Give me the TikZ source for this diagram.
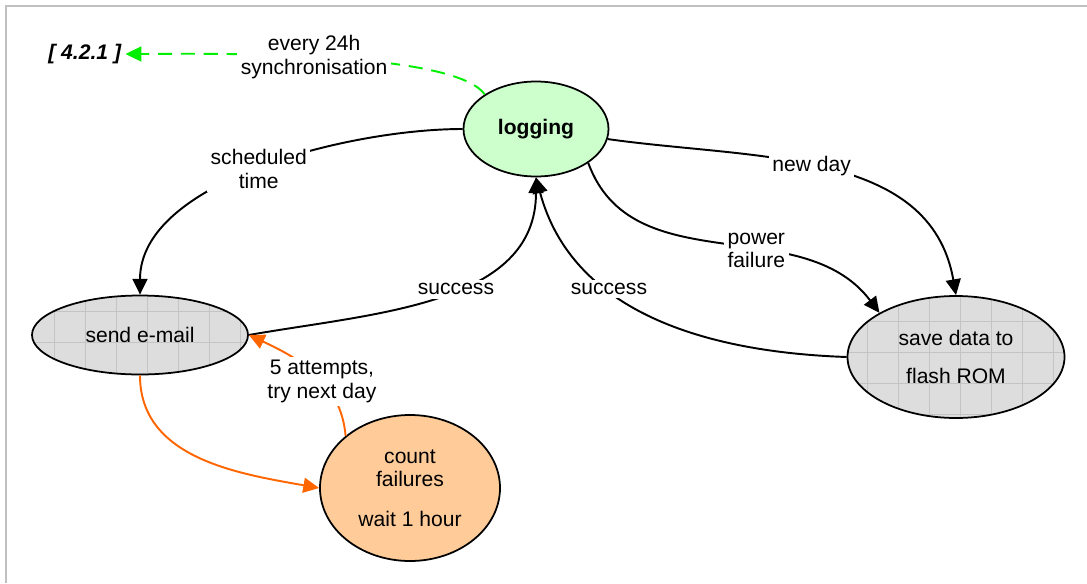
\documentclass[tikz,border=0pt]{standalone}
\usepackage{fontspec}
\setmainfont{Liberation Sans}
\usetikzlibrary{positioning,shapes.geometric,arrows.meta}
\definecolor{loggreen}{HTML}{CCFFCC}
\definecolor{cellgray}{HTML}{DDDDDD}
\definecolor{gridgray}{HTML}{C4C4C4}
\definecolor{waitorange}{HTML}{FFCC99}
\definecolor{retry}{HTML}{FF6600}
\definecolor{syncgreen}{HTML}{00EE00}
\definecolor{framegray}{HTML}{C0C0C0}

\begin{document}
\begin{tikzpicture}[on grid, font=\fontsize{12}{13.5}\selectfont,
	>={Triangle[length=9pt,width=8.5pt]},
	stage/.style={ellipse, draw, line width=1pt, inner sep=0pt, align=center},
	gridded/.style={fill=cellgray, path picture={\draw[gridgray, line width=0.5pt, shift={(path picture bounding box.center)}] (-3.41,-1.86) grid[step=0.62cm] (3.41,1.86);}},
	flow/.style={line width=1.1pt},
	lbl/.style={fill=white, text=black, align=center, inner sep=2pt}]
	\useasboundingbox (0,0) rectangle (21.74,-11.66);
	\draw[framegray, line width=1.6pt] (0.12,-11.66) -- (0.12,-0.12) -- (21.74,-0.12);

	\node (logging) [stage, fill=loggreen, minimum width=2.9cm, minimum height=1.9cm] at (10.72,-2.58) {\textbf{logging}};
	\node (email) [stage, gridded, minimum width=4.32cm, minimum height=1.58cm, below left=4.12cm and 7.92cm of logging] {send e-mail};
	\node (flash) [stage, gridded, minimum width=4.34cm, minimum height=2.44cm, below right=4.56cm and 8.4cm of logging] {save data to\\[8pt]flash ROM};
	\node (count) [stage, fill=waitorange, minimum width=3.6cm, minimum height=2.92cm, below right=3.06cm and 5.4cm of email] {count\\failures\\[9pt]wait 1 hour};
	\node (ref) [inner sep=2pt, above left=1.5cm and 9.02cm of logging] {\textbf{\textit{[ 4.2.1 ]}}};

	\draw[flow,->] (logging) to[out=180,in=90,looseness=0.8] node[lbl] {scheduled\\time} (email);
	\draw[flow,->] (email.east) to[out=10,in=-90] node[lbl,pos=0.55] {success} (logging.south);
	\draw[flow,->] (flash.west) to[out=178,in=-75] node[lbl,pos=0.64] {success} (logging.south);
	\draw[flow,->] (logging) to[out=-8,in=100] node[lbl,pos=0.46] {new day} (flash.north);
	\draw[flow,->] (logging.-33) to[out=-70,in=127] node[lbl,pos=0.6] {power\\failure} (flash.150);
	\draw[flow,->,syncgreen,dashed,dash pattern=on 8pt off 5pt] (logging.146) to[out=125,in=0,looseness=0.4] node[lbl] {every 24h\\synchronisation} (ref);
	\draw[flow,->,retry] (email.south) to[out=-90,in=170] (count.west);
	\draw[flow,->,retry] (count.141) to[out=95,in=-25] node[lbl,pos=0.42] {5 attempts,\\try next day} (email.east);
\end{tikzpicture}
\end{document}
